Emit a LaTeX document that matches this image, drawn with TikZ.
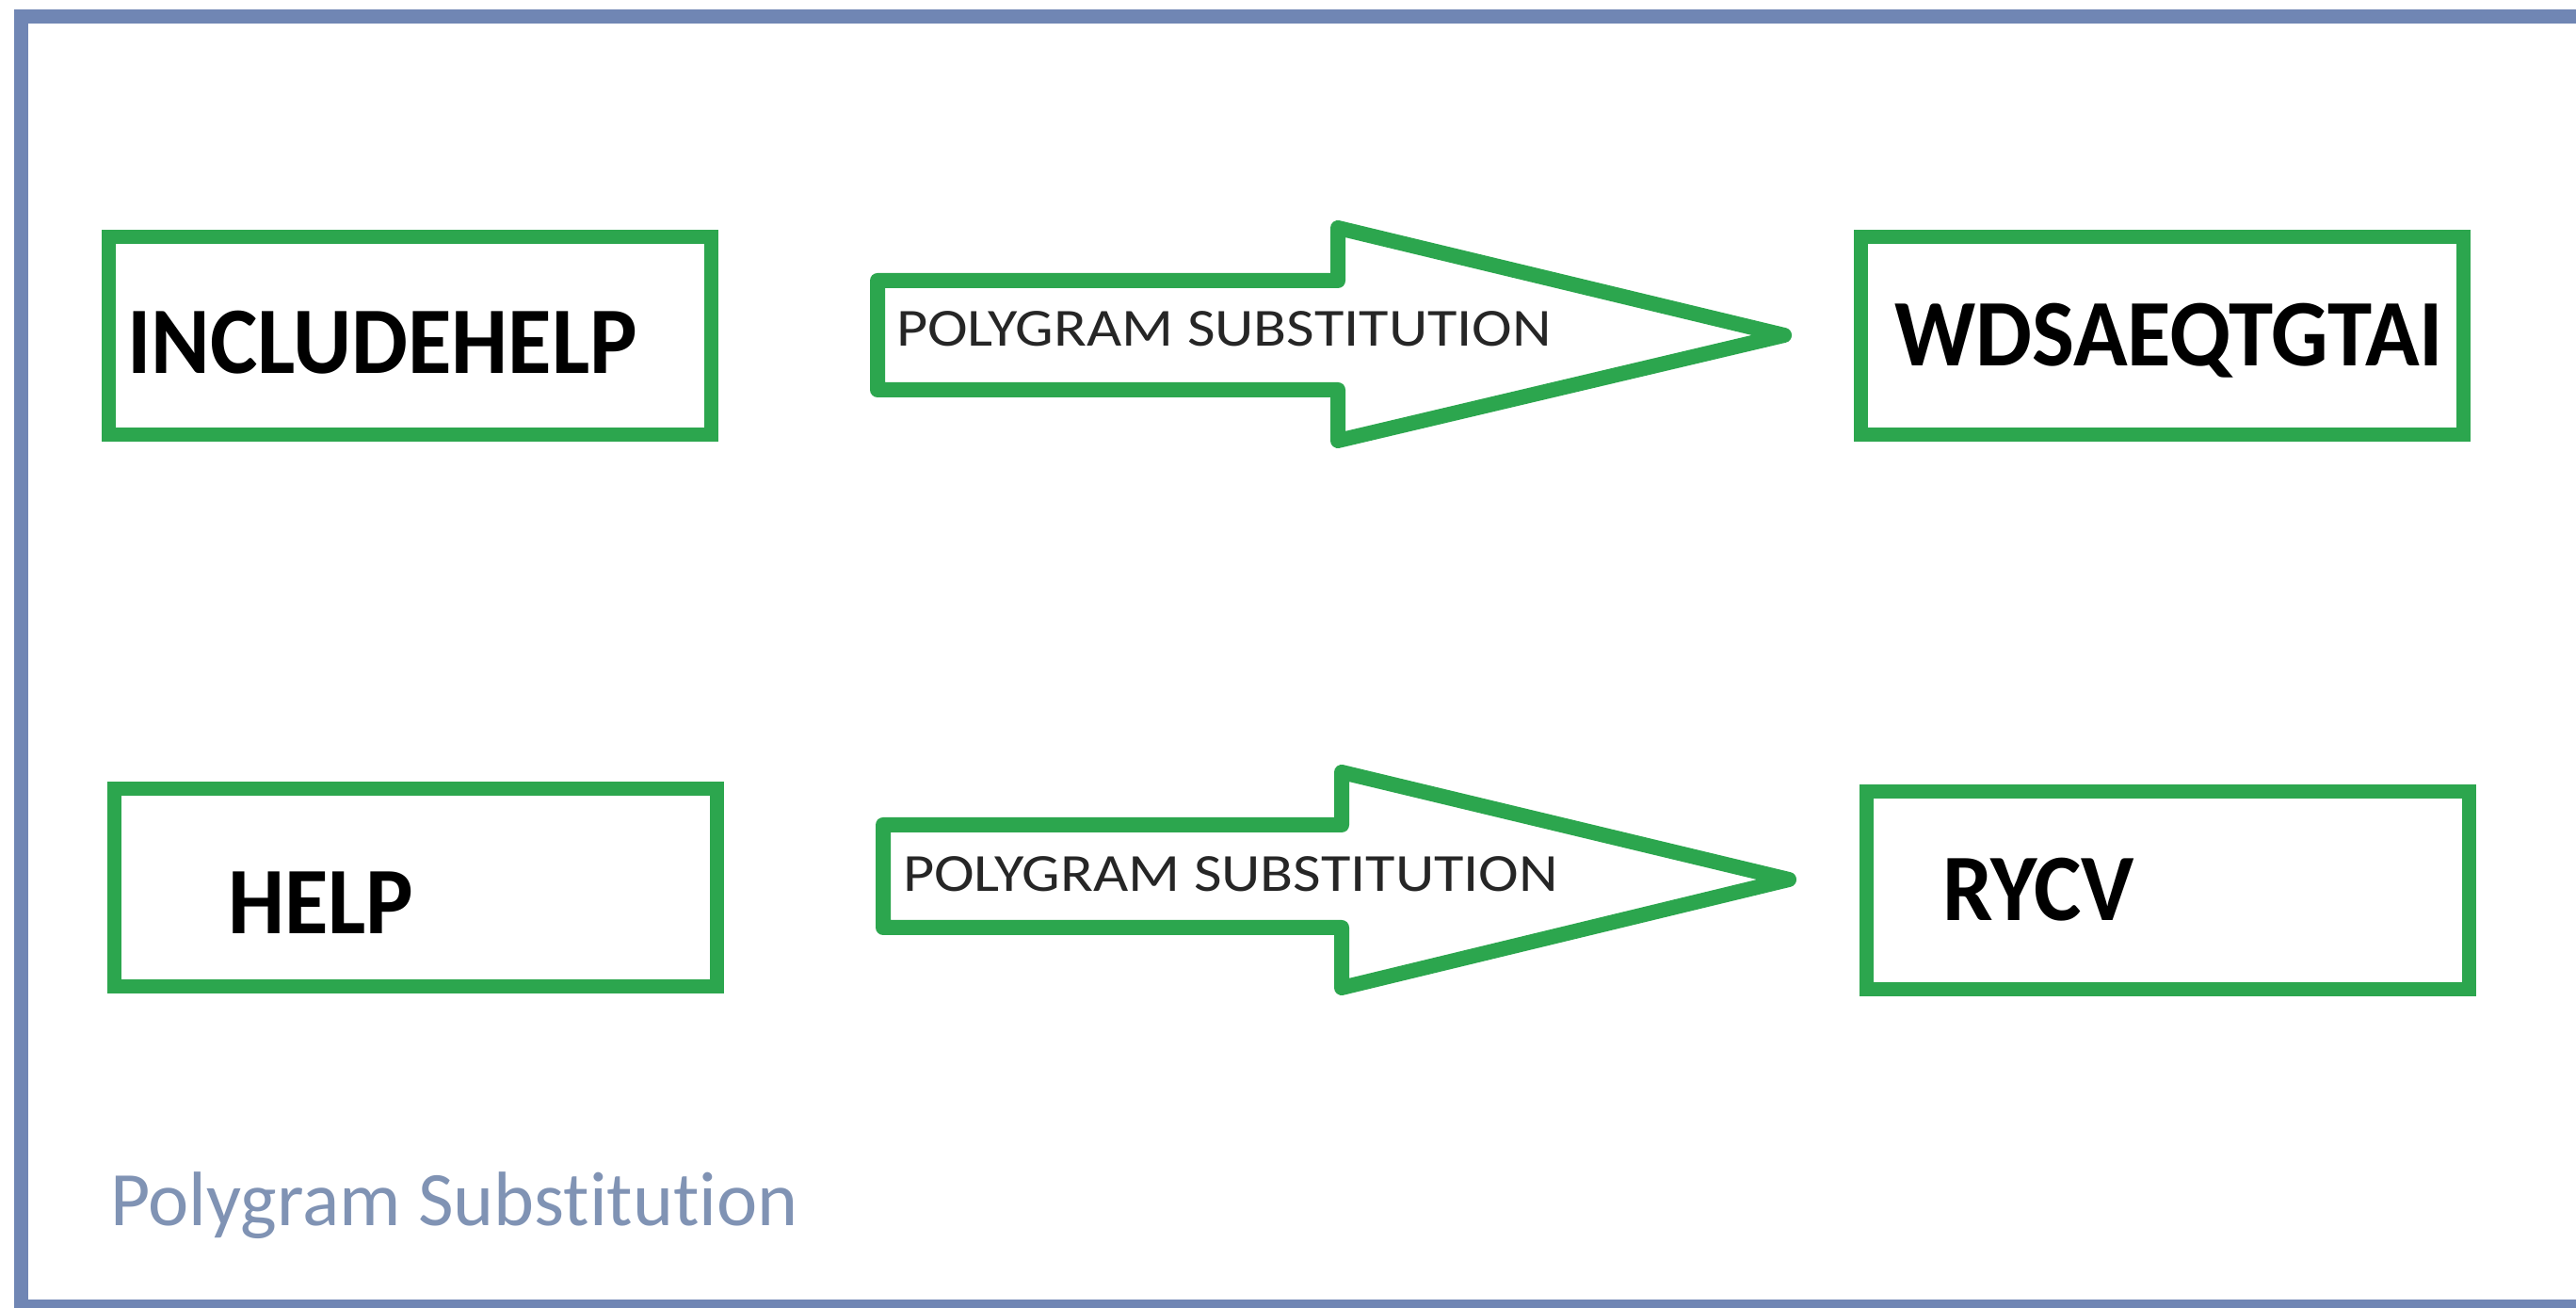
\documentclass[tikz,border=0pt]{standalone}
\usepackage{fontspec}
\setmainfont[Ligatures=NoCommon]{Carlito}
\newfontfamily\wordfont[FakeStretch=0.94]{Carlito}
\newfontfamily\labelfont[FakeStretch=1.13]{Carlito}
\usetikzlibrary{positioning,calc}
\definecolor{boxgreen}{RGB}{44,166,78}
\definecolor{frameblue}{RGB}{112,134,180}
\definecolor{titleblue}{RGB}{128,147,180}

\begin{document}
\begin{tikzpicture}
	\clip (0,0) rectangle (27.36,13.89);
	\fill[white] (0,0) rectangle (27.36,13.89);
	\draw[frameblue, line width=0.15cm] (0.22,0.01) rectangle (27.6,13.71);
	\begin{scope}
		\tikzstyle{every node}=[inner sep=0pt, outer sep=0pt]
		\tikzstyle{wordbox}=[draw=boxgreen, line width=0.15cm, minimum width=6.4cm, minimum height=2.1cm]
		\tikzstyle{word}=[anchor=base west, font=\wordfont\bfseries\fontsize{28.8}{30}\selectfont]
		\tikzstyle{blockarrow}=[draw=boxgreen, line width=0.16cm, line join=round]
		\tikzstyle{arrowlabel}=[anchor=base west, font=\labelfont\fontsize{16.2}{18}\selectfont, text=black!85]

		% top row
		\node[wordbox] (plain1) at (4.355, 10.32) {};
		\node[word] (plaintxt1) at (1.35, 9.92) {INCLUDEHELP};
		\draw[blockarrow] (9.32,10.91) -- (14.21,10.91) -- (14.21,11.47) -- (18.95,10.33)
			-- (14.21,9.21) -- (14.21,9.75) -- (9.32,9.75) -- cycle;
		\node[arrowlabel] (step1) at (9.52, 10.21) {POLYGRAM SUBSTITUTION};
		\node[wordbox] (cipher1) at (22.96, 10.32) {};
		\node[word] (ciphertxt1) at (20.12, 10.0) {WDSAEQTGTAI};

		% bottom row
		\node[wordbox] (plain2) at (4.415, 4.465) {};
		\node[word] (plaintxt2) at (2.42, 3.97) {HELP};
		\draw[blockarrow] (9.38,5.13) -- (14.25,5.13) -- (14.25,5.69) -- (19.00,4.55)
			-- (14.25,3.40) -- (14.25,4.04) -- (9.38,4.04) -- cycle;
		\node[arrowlabel] (step2) at (9.59, 4.42) {POLYGRAM SUBSTITUTION};
		\node[wordbox] (cipher2) at (23.025, 4.43) {};
		\node[word] (ciphertxt2) at (20.63, 4.11) {RYCV};

		\node[anchor=base west, font=\fontsize{23.3}{25}\selectfont, text=titleblue] (title) at (1.17, 0.87) {Polygram Substitution};
	\end{scope}
\end{tikzpicture}
\end{document}
